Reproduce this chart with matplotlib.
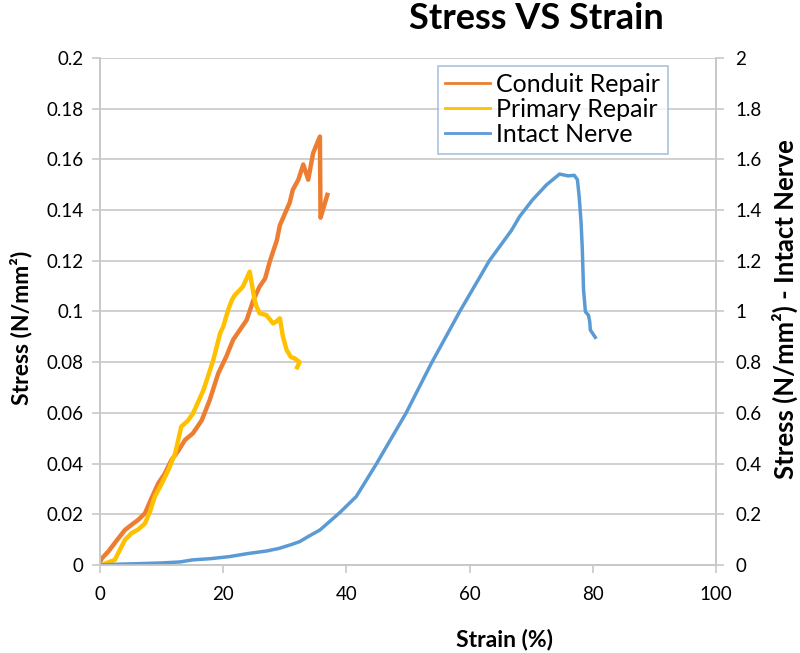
import matplotlib
matplotlib.use("Agg")
import matplotlib.pyplot as plt

plt.rcParams['font.family'] = ['Lato', 'DejaVu Sans']

# Conduit Repair (left axis)
conduit_strain = [0, 0.3, 1.35, 2.5, 4.05, 5.2, 6.2, 7.3, 8.3, 9.45, 10.5, 11.6, 12.7, 13.8,
                  15.1, 16.5, 17.8, 19.2, 20.5, 21.6, 22.7, 23.8, 24.9, 25.9, 26.8, 27.6,
                  28.7, 29.2, 30.8, 31.3, 32.2, 33.0, 33.8, 34.6, 35.7, 35.8, 36.3, 36.9]
conduit_stress = [0.001, 0.0026, 0.0053, 0.009, 0.0138, 0.0160, 0.0178, 0.0204, 0.026, 0.0322,
                  0.036, 0.0414, 0.045, 0.0493, 0.052, 0.057, 0.065, 0.0756, 0.0822, 0.0888,
                  0.0927, 0.0966, 0.1045, 0.1098, 0.113, 0.1200, 0.128, 0.134, 0.143, 0.148,
                  0.152, 0.158, 0.152, 0.1625, 0.169, 0.137, 0.141, 0.146]

# Primary Repair (left axis)
primary_strain = [0, 0.3, 1.3, 2.4, 4.05, 5.1, 6.2, 7.3, 8.1, 8.9, 10.0, 11.1, 12.2, 13.2,
                  14.3, 15.1, 16.8, 18.4, 19.5, 20.0, 20.8, 21.4, 21.9, 22.7, 23.2, 24.3,
                  25.1, 25.4, 25.9, 27.0, 28.1, 28.6, 29.2, 29.7, 30.3, 31.0, 31.6, 32.4, 32.0]
primary_stress = [0.0, 0.0, 0.001, 0.002, 0.0099, 0.0125, 0.014, 0.0164, 0.021, 0.027, 0.032,
                  0.0375, 0.044, 0.0546, 0.057, 0.0598, 0.069, 0.0809, 0.0914, 0.094, 0.1006,
                  0.1045, 0.1065, 0.1085, 0.1098, 0.1157, 0.1045, 0.102, 0.0993, 0.0986,
                  0.0953, 0.096, 0.0973, 0.090, 0.0848, 0.082, 0.0815, 0.080, 0.078]

# Intact Nerve (right axis)
intact_strain = [0, 3, 6, 10, 13, 15, 18, 21, 24, 27, 29, 31, 32.4, 34, 35.7, 38.9, 41.6,
                 44.9, 49.7, 53.8, 58.4, 63.2, 66.8, 68.1, 70.2, 72.5, 74.6, 76.0, 77.0,
                 77.5, 77.8, 78.1, 78.3, 78.5, 78.8, 79.3, 79.5, 79.6, 80.4]
intact_stress = [0.0, 0.003, 0.005, 0.008, 0.012, 0.02, 0.025, 0.033, 0.045, 0.055, 0.065,
                 0.08, 0.092, 0.115, 0.138, 0.206, 0.27, 0.40, 0.60, 0.796, 1.0, 1.2, 1.32,
                 1.374, 1.44, 1.50, 1.542, 1.535, 1.537, 1.52, 1.45, 1.35, 1.243, 1.085,
                 0.999, 0.985, 0.96, 0.927, 0.898]

left_ticks = [0, 0.02, 0.04, 0.06, 0.08, 0.1, 0.12, 0.14, 0.16, 0.18, 0.2]
left_labels = ['0', '0.02', '0.04', '0.06', '0.08', '0.1', '0.12', '0.14', '0.16', '0.18', '0.2']
right_ticks = [0, 0.2, 0.4, 0.6, 0.8, 1, 1.2, 1.4, 1.6, 1.8, 2]
right_labels = ['0', '0.2', '0.4', '0.6', '0.8', '1', '1.2', '1.4', '1.6', '1.8', '2']
x_ticks = [0, 20, 40, 60, 80, 100]

ORANGE = '#ED7D31'
YELLOW = '#FFC000'
BLUE = '#5B9BD5'
GRID = '#C8C8C8'

fig = plt.figure(figsize=(8, 6.53), dpi=100)
ax = fig.add_axes([0.125, 0.1348, 0.77, 0.7764])
ax2 = ax.twinx()

l1, = ax.plot(conduit_strain, conduit_stress, color=ORANGE, lw=3.2, label='Conduit Repair')
l2, = ax.plot(primary_strain, primary_stress, color=YELLOW, lw=3.2, label='Primary Repair')
l3, = ax2.plot(intact_strain, intact_stress, color=BLUE, lw=2.5, label='Intact Nerve')

ax.set_xlim(0, 100)
ax.set_ylim(0, 0.2)
ax2.set_ylim(0, 2)
ax.set_xticks(x_ticks)
ax.set_yticks(left_ticks)
ax.set_yticklabels(left_labels)
ax2.set_yticks(right_ticks)
ax2.set_yticklabels(right_labels)

ax.yaxis.grid(True, color=GRID, lw=1.2)
ax.set_axisbelow(True)

for a in (ax, ax2):
    a.spines['top'].set_visible(False)
    for s in ('left', 'right', 'bottom'):
        a.spines[s].set_color(GRID)
        a.spines[s].set_linewidth(1.2)
    a.tick_params(colors=GRID, labelcolor='black', labelsize=13.5, length=6, width=1.2)
ax.tick_params(axis='y', pad=6)
ax2.tick_params(axis='y', pad=8)
ax.tick_params(axis='x', pad=9)

fig.text(0.67, 0.972, 'Stress VS Strain', ha='center', va='center',
         fontsize=26, fontweight='bold')
fig.text(0.63, 0.02, 'Strain (%)', ha='center', va='center',
         fontsize=16.5, fontweight='bold')
fig.text(0.026, 0.498, 'Stress (N/mm²)', ha='center', va='center', rotation=90,
         fontsize=16.5, fontweight='bold')
fig.text(0.981, 0.527, 'Stress (N/mm²) - Intact Nerve', ha='center', va='center',
         rotation=90, fontsize=18.5, fontweight='bold')

leg = ax2.legend(handles=[l1, l2, l3], loc='upper left', bbox_to_anchor=(0.548, 0.985),
                 fontsize=18, frameon=True, fancybox=False, handlelength=1.8,
                 handletextpad=0.25, labelspacing=0.08, borderpad=0.3, borderaxespad=0)
leg.get_frame().set_edgecolor('#95B3D7')
leg.get_frame().set_linewidth(1.2)
for line in leg.get_lines():
    line.set_linewidth(2)

fig.savefig('out.png', dpi=100)
